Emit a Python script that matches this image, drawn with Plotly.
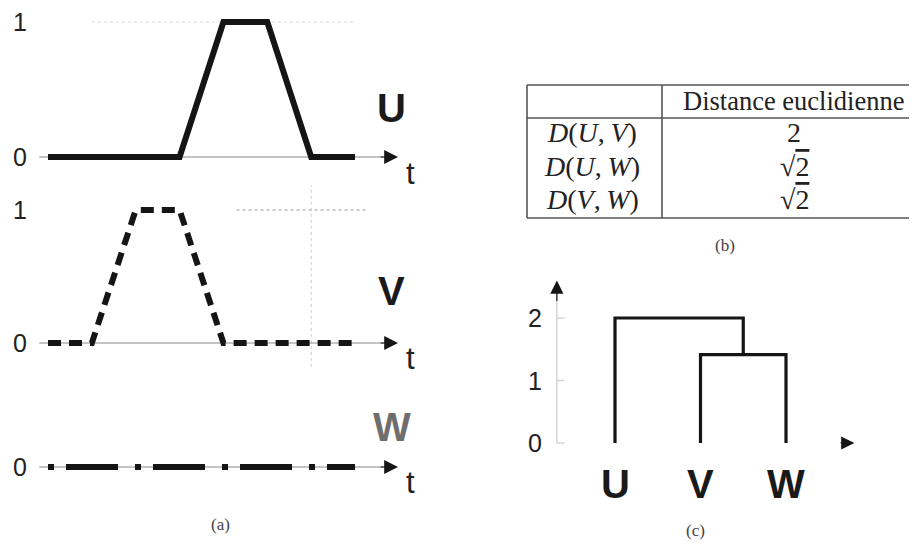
import math
import plotly.graph_objects as go

# ---------------- data ----------------
t = [0, 1, 2, 3, 4, 5, 6, 7]
U = [0, 0, 0, 0, 1, 1, 0, 0]
V = [0, 0, 1, 1, 0, 0, 0, 0]
W = [0, 0, 0, 0, 0, 0, 0, 0]
series_names = ["U", "V", "W"]
series_ticks = [[0, 1], [0, 1], [0]]

table_header = ["", "Distance euclidienne"]
pair_labels = ["<i>D</i>(<i>U</i>,\u2009<i>V</i>)",
               "<i>D</i>(<i>U</i>,\u2009<i>W</i>)",
               "<i>D</i>(<i>V</i>,\u2009<i>W</i>)"]
distance_text = ["2",
                 "\u221a<span style='text-decoration:overline'>2</span>",
                 "\u221a<span style='text-decoration:overline'>2</span>"]

leaves = ["U", "V", "W"]
# linkage: (child a, child b, height); new nodes numbered after leaves
merges = [(1, 2, math.sqrt(2)), (0, 3, 2.0)]
dendro_ticks = [0, 1, 2]

# ---------------- geometry helpers (page body has an 8px margin) ----------------
OFF = 8
FW, FH = 917 - OFF, 547 - OFF


def px(xp):
    return (xp - OFF) / FW


def py(yp):
    return 1 - (yp - OFF) / FH


def xdom(a, b):
    return [max(0, px(a)), min(1, px(b))]


def ydom(top, bot):
    return [max(0, py(bot)), min(1, py(top))]


def rng(p0, p1, v_at, v_px, per):
    return [v_at + (p0 - v_px) / per, v_at + (p1 - v_px) / per]


SANS = "Liberation Sans, Arial, sans-serif"
SERIF = "Liberation Serif, Times New Roman, serif"
INK = "#151515"
series_vals = [U, V, W]
series_axes = ["y", "y2", "y3"]
series_dash = ["solid", "13px,8px", "6px,12px,52px,17px"]
label_color = ["#1a1a1a", "#1a1a1a", "#6e6e6e"]
label_y = [0.36, 0.39, 0.30]

fig = go.Figure()
ann = []
shapes = []


def txt(x, y, text, xref, yref, font, **kw):
    d = dict(x=x, y=y, xref=xref, yref=yref, text=text, showarrow=False,
             xanchor="center", yanchor="middle", font=font)
    d.update(kw)
    return d


def arrow(x, y, ax, ay, xr, yr, size=2.3):
    return dict(x=x, y=y, ax=ax, ay=ay, xref=xr, yref=yr, axref=xr, ayref=yr,
                showarrow=True, arrowhead=2, arrowsize=size, arrowwidth=1.2,
                arrowcolor=INK, text="")


# ---------------- panel (a) ----------------
for vals, ya, dash, name, col, ly, ticks in zip(series_vals, series_axes, series_dash,
                                               series_names, label_color, label_y, series_ticks):
    fig.add_trace(go.Scatter(x=[t[0] - 0.2, t[-1] + 0.7], y=[0, 0], xaxis="x", yaxis=ya,
                             mode="lines", line=dict(color="#8a8a8a", width=1),
                             hoverinfo="skip"))
    fig.add_trace(go.Scatter(x=t, y=vals, xaxis="x", yaxis=ya, mode="lines",
                             line=dict(color=INK, width=6, dash=dash), name=name))
    ann.append(arrow(t[-1] + 0.98, 0, t[-1] + 0.55, 0, "x", ya))
    ann.append(txt(t[-1] + 1.27, -0.12, "t", "x", ya, dict(family=SANS, size=31, color="#222")))
    ann.append(txt(t[-1] + 0.84, ly, "<b>%s</b>" % name, "x", ya,
                   dict(family=SANS, size=40, color=col)))
    for tv in ticks:
        ann.append(txt(-0.64, tv, str(tv), "x", ya, dict(family=SANS, size=25, color="#222")))

shapes.append(dict(type="line", xref="x", yref="y", x0=t[1], x1=t[-1], y0=1, y1=1,
                   line=dict(color="#d8d8d8", width=1.2, dash="dot"), layer="below"))
shapes.append(dict(type="line", xref="x", yref="y2", x0=4.3, x1=7.3, y0=1, y1=1,
                   line=dict(color="#9a9a9a", width=1.2, dash="dot"), layer="below"))
shapes.append(dict(type="line", xref="x", yref="y2", x0=t[6], x1=t[6], y0=-0.45, y1=1.35,
                   line=dict(color="#cccccc", width=1, dash="dot"), layer="below"))

ann.append(txt(px(220), py(524), "(a)", "paper", "paper", dict(family=SERIF, size=17, color="#444")))

# ---------------- panel (b): table ----------------
T_LEFT, T_SEP, T_RIGHT = px(527), px(662), 1.0
T_TOP, T_HEAD, T_BOT = py(85), py(118), py(218)
border = dict(color="#555", width=1.6)
for (x0, x1, y0, y1) in [(T_LEFT, T_RIGHT, T_TOP, T_TOP), (T_LEFT, T_RIGHT, T_HEAD, T_HEAD),
                         (T_LEFT, T_RIGHT, T_BOT, T_BOT), (T_LEFT, T_LEFT, T_BOT, T_TOP),
                         (T_SEP, T_SEP, T_BOT, T_TOP)]:
    shapes.append(dict(type="line", xref="paper", yref="paper", x0=x0, x1=x1, y0=y0, y1=y1,
                       line=border))
col_x = [px(592), px(794)]
ann.append(txt(px(793), py(101), table_header[1], "paper", "paper",
               dict(family=SERIF, size=26.5, color="#222")))
row_h = (T_HEAD - T_BOT) / len(pair_labels)
for i, (lab, val) in enumerate(zip(pair_labels, distance_text)):
    yc = T_HEAD - (i + 0.5) * row_h + 2 / FH
    ann.append(txt(col_x[0], yc, lab, "paper", "paper", dict(family=SERIF, size=28, color="#222")))
    ann.append(txt(col_x[1], yc, val, "paper", "paper", dict(family=SERIF, size=28, color="#222")))
ann.append(txt(px(725), py(246), "(b)", "paper", "paper", dict(family=SERIF, size=17, color="#444")))

# ---------------- panel (c): dendrogram ----------------
pos = {i: float(i) for i in range(len(leaves))}
hgt = {i: 0.0 for i in range(len(leaves))}
for k, (a, b, h) in enumerate(merges):
    node = len(leaves) + k
    fig.add_trace(go.Scatter(x=[pos[a], pos[a], pos[b], pos[b]], y=[hgt[a], h, h, hgt[b]],
                             xaxis="x4", yaxis="y4", mode="lines",
                             line=dict(color=INK, width=3.2), hoverinfo="skip"))
    pos[node] = (pos[a] + pos[b]) / 2
    hgt[node] = h

AX_X = -0.68
fig.add_trace(go.Scatter(x=[AX_X, AX_X], y=[dendro_ticks[0], 2.4], xaxis="x4", yaxis="y4",
                         mode="lines", line=dict(color="#cfcfcf", width=1.3), hoverinfo="skip"))
for tv in dendro_ticks:
    fig.add_trace(go.Scatter(x=[AX_X, AX_X + 0.09], y=[tv, tv], xaxis="x4", yaxis="y4",
                             mode="lines", line=dict(color="#cfcfcf", width=1.3),
                             hoverinfo="skip"))
    ann.append(txt(-0.94, tv, str(tv), "x4", "y4", dict(family=SANS, size=25, color="#222")))
ann.append(arrow(AX_X, 2.6, AX_X, 2.25, "x4", "y4", size=2.2))
ann.append(arrow(2.8, 0, 2.62, 0, "x4", "y4", size=2.2))
for i, name in enumerate(leaves):
    ann.append(txt(pos[i], -0.66, "<b>%s</b>" % name, "x4", "y4",
                   dict(family=SANS, size=40, color="#1a1a1a")))
ann.append(txt(px(695), py(530), "(c)", "paper", "paper", dict(family=SERIF, size=17, color="#444")))

# ---------------- layout ----------------
hidden = dict(visible=False, showgrid=False, zeroline=False, fixedrange=True)
XPER = 43.86   # pixels per time unit
fig.update_layout(
    width=FW, height=FH, margin=dict(l=0, r=0, t=0, b=0),
    paper_bgcolor="white", plot_bgcolor="white", showlegend=False,
    xaxis=dict(domain=xdom(OFF, 466), range=rng(OFF, 466, 0, 48, XPER), anchor="y", **hidden),
    yaxis=dict(domain=ydom(OFF, 180), range=rng(180, OFF, 0, 157, -135), anchor="x", **hidden),
    yaxis2=dict(domain=ydom(185, 370), range=rng(370, 185, 0, 343, -133), anchor="x", **hidden),
    yaxis3=dict(domain=ydom(375, 547), range=rng(547, 375, 0, 467, -133), anchor="x", **hidden),
    xaxis4=dict(domain=xdom(520, 917), range=rng(520, 917, 0, 615, 85.5), anchor="y4", **hidden),
    yaxis4=dict(domain=ydom(270, 510), range=rng(510, 270, 0, 443, -62.5), anchor="x4", **hidden),
    annotations=ann, shapes=shapes,
)

fig.write_html("out.html")
